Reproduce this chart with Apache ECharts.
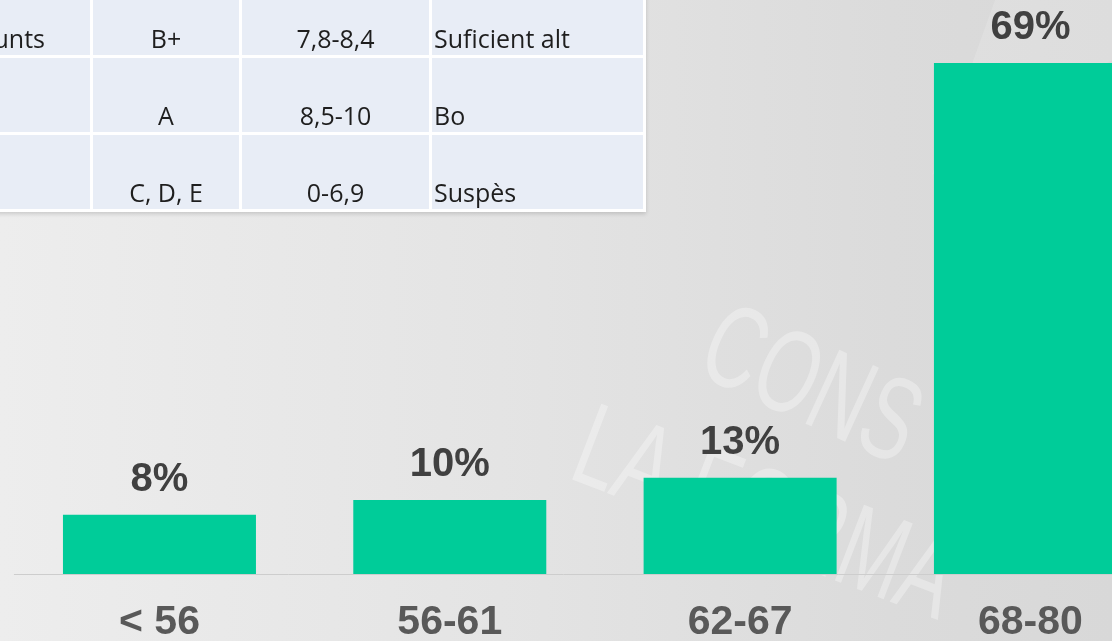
<!DOCTYPE html>
<html>
<head>
<meta charset="utf-8">
<script src="https://cdn.jsdelivr.net/npm/echarts@6/dist/echarts.min.js"></script>
<style>
html,body{margin:0;padding:0;}
#chart{width:1112px;height:641px;background:linear-gradient(90deg,#ededed 0%,#e4e4e4 45%,#dbdbdb 80%,#d8d8d8 100%);}
</style>
</head>
<body>
<div id="chart"></div>
<script>
// Chart data
var categories = ['< 56', '56-61', '62-67', '68-80'];
var values = [8, 10, 13, 69];

// Table data (partially visible, top-left)
var tableFirstCol = ['Punts', '', ''];
var tableGrades = ['B+', 'A', 'C, D, E'];
var tableRanges = ['7,8-8,4', '8,5-10', '0-6,9'];
var tableMeanings = ['Suficient alt', 'Bo', 'Suspès'];

// Watermark text
var watermarkLines = ['CONS', 'LA FORMA'];

var chart = echarts.init(document.getElementById('chart'), null, {renderer: 'canvas'});

// table geometry
var colX = [[-20, 90], [93, 239], [242, 429], [432, 643]];
var rowY = [[-20, 55], [58, 132], [135, 209]];
var graphics = [];

// watermark
var wmRot = [-24.5, -21];
var wmPos = [[707, 343], [578, 447]];
watermarkLines.forEach(function (t, i) {
  graphics.push({
    type: 'text', x: wmPos[i][0], y: wmPos[i][1], rotation: wmRot[i] * Math.PI / 180, scaleX: 0.66, z: -10,
    style: {text: t, fill: 'rgba(255,255,255,0.32)', font: '118px "Liberation Sans"', textAlign: 'left', textVerticalAlign: 'middle'}
  });
});
// faint light shape top-right
graphics.push({type: 'polygon', z: -11, shape: {points: [[932, 175], [995, 0], [1112, 0], [1112, 60]]},
  style: {fill: 'rgba(255,255,255,0.14)'}});

// table background (white borders)
graphics.push({type: 'rect', z: 50, shape: {x: -20, y: -20, width: 666, height: 232},
  style: {fill: '#ffffff', shadowBlur: 4, shadowColor: 'rgba(0,0,0,0.15)', shadowOffsetY: 2}});
var cols = [tableFirstCol, tableGrades, tableRanges, tableMeanings];
for (var r = 0; r < rowY.length; r++) {
  for (var c = 0; c < colX.length; c++) {
    graphics.push({type: 'rect', z: 51, shape: {x: colX[c][0], y: rowY[r][0], width: colX[c][1] - colX[c][0], height: rowY[r][1] - rowY[r][0]},
      style: {fill: '#e8edf6'}});
    var txt = cols[c][r];
    if (!txt) continue;
    var tx, align;
    if (c === 0) { tx = 45; align = 'right'; }
    else if (c === 3) { tx = colX[c][0] + 2; align = 'left'; }
    else { tx = (colX[c][0] + colX[c][1]) / 2; align = 'center'; }
    graphics.push({type: 'text', z: 52, x: tx, y: rowY[r][1] - 14,
      style: {text: txt, fill: '#1e1e1e', font: '25px "Open Sans"', textAlign: align, textVerticalAlign: 'middle'}});
  }
}

chart.setOption({
  backgroundColor: 'transparent',
  animation: false,
  grid: {left: 14.3, width: 1161.3, top: 0, height: 574, outerBoundsMode: 'none', containLabel: false},
  xAxis: {
    type: 'category', data: categories,
    axisLine: {lineStyle: {color: '#cdcdcd', width: 1}},
    axisTick: {show: false},
    axisLabel: {color: '#595959', fontSize: 41, fontWeight: 'bold', fontFamily: 'Liberation Sans', margin: 28}
  },
  yAxis: {type: 'value', min: 0, max: 77.5, show: false, splitLine: {show: false}},
  series: [{
    type: 'bar', data: values, barWidth: 193,
    itemStyle: {color: '#00cc99'},
    label: {show: true, position: 'top', distance: 15, formatter: '{c}%', color: '#404040', fontSize: 40, fontWeight: 'bold', fontFamily: 'Liberation Sans'}
  }],
  graphic: graphics
});
</script>
</body>
</html>
